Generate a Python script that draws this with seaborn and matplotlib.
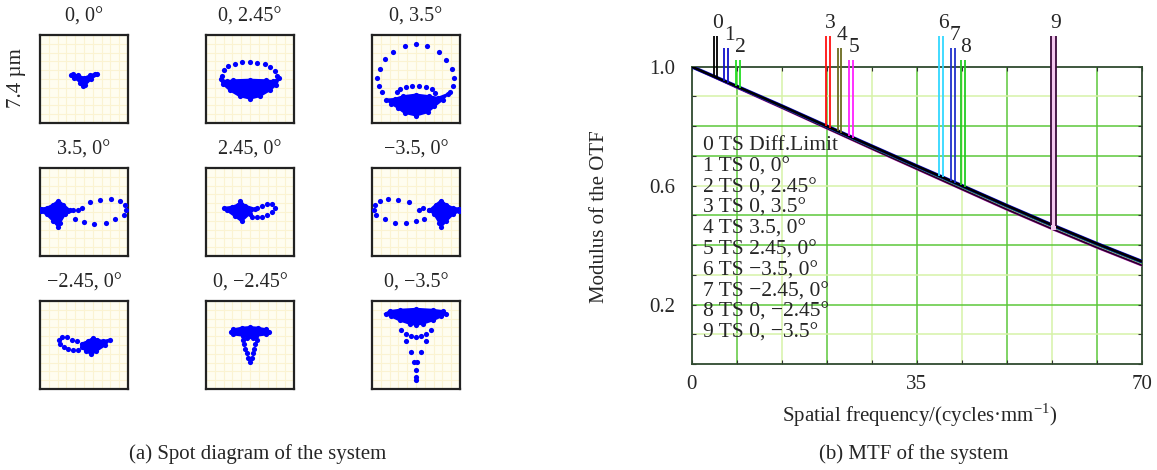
import matplotlib
matplotlib.use("Agg")
import matplotlib.pyplot as plt
import numpy as np
import pandas as pd
import seaborn as sns

sns.set_theme(style="white")
plt.rcParams['font.family'] = ['Liberation Serif', 'DejaVu Serif']
plt.rcParams['mathtext.fontset'] = 'custom'
plt.rcParams['mathtext.rm'] = 'Liberation Serif'

W, H = 1157, 470

"""
Spot diagram data (µm, box spans +-3.7)
"""
field_titles = ["0, 0°", "0, 2.45°", "0, 3.5°",
                "3.5, 0°", "2.45, 0°", "\u22123.5, 0°",
                "\u22122.45, 0°", "0, \u22122.45°", "0, \u22123.5°"]

spot1_blob = [(-1.12, 0.3), (-0.9, 0.38), (-0.5, 0.3), (0.0, 0.1), (0.5, 0.3), (0.9, 0.45), (1.12, 0.38),
              (0.6, 0.0), (0.1, -0.5), (-0.05, -0.6), (-0.3, -0.3), (-0.8, 0.1)]
spot1_dots = []

spot2_blob = [(-2.47, 0.0), (-1.97, -0.2), (-1.41, -0.11), (0.0, -0.06), (1.38, -0.11), (1.94, -0.2), (2.44, 0.06),
              (2.22, -0.47), (1.66, -0.95), (0.82, -1.45), (0.0, -1.65), (-0.85, -1.45), (-1.69, -0.95), (-2.3, -0.39)]
spot2_dots = [(-2.33, 0.28), (-2.19, 0.73), (-1.86, 1.06), (-1.27, 1.28), (-0.66, 1.40), (0.0, 1.42),
              (0.63, 1.37), (1.24, 1.26), (1.72, 0.98), (2.08, 0.70), (2.30, 0.22)]

spot3_blob = [(-2.5, -1.73), (-1.8, -1.68), (-1.1, -1.45), (0.01, -1.31), (1.13, -1.45), (1.83, -1.59), (2.67, -1.26),
              (2.25, -1.73), (1.55, -2.29), (0.99, -2.79), (0.01, -3.07), (-0.96, -2.85), (-1.52, -2.43), (-2.08, -2.07)]
spot3_dots = [(-0.04, 2.93), (-0.96, 2.74), (0.94, 2.74), (-1.94, 2.29), (1.91, 2.29), (-2.58, 1.68), (2.53, 1.62),
              (-3.06, 0.84), (3.03, 0.84), (-3.25, 0.08), (3.17, 0.08), (-3.11, -0.56), (3.09, -0.56),
              (-2.83, -1.12), (2.86, -1.06), (-1.61, -1.12), (-1.38, -0.84), (-0.88, -0.67), (-0.32, -0.61),
              (0.24, -0.61), (0.8, -0.67), (1.33, -0.84), (1.61, -1.17)]

spot4_blob = [(-3.65, 0.29), (-3.14, 0.35), (-2.58, 0.63), (-2.16, 0.96), (-1.75, 0.63), (-1.19, 0.15),
              (-1.61, -0.21), (-2.03, -0.91), (-2.16, -1.24), (-2.58, -0.77), (-3.14, -0.21), (-3.65, 0.07)]
spot4_dots = [(0.49, 0.82), (1.38, 1.05), (2.3, 1.13), (3.06, 0.91), (3.42, 0.63), (3.56, 0.21), (3.34, -0.29),
              (2.58, -0.63), (1.83, -0.91), (0.85, -0.99), (-0.01, -0.82), (-0.77, -0.63), (-1.33, 0.07),
              (-0.91, 0.15), (-0.49, 0.21), (-0.21, 0.35)]

spot5_blob = [(-2.19, 0.35), (-1.55, 0.43), (-0.99, 0.63), (-0.8, 0.91), (-0.43, 0.54), (0.41, 0.27),
              (-0.01, -0.13), (-0.71, -0.77), (-1.27, -0.35), (-1.97, 0.15)]
spot5_dots = [(0.6, 0.32), (1.05, 0.54), (1.47, 0.68), (1.89, 0.68), (2.11, 0.35), (1.89, -0.01),
              (1.44, -0.29), (1.02, -0.41), (0.6, -0.43), (0.21, -0.41)]

spot6_blob = [(3.65, 0.29), (3.09, 0.35), (2.53, 0.63), (2.11, 0.96), (1.69, 0.63), (1.13, 0.15),
              (1.55, -0.21), (1.97, -0.91), (2.11, -1.24), (2.53, -0.77), (3.09, -0.21), (3.65, 0.07)]
spot6_dots = [(-3.06, 0.96), (-2.36, 1.13), (-1.52, 1.05), (-0.6, 0.82), (-3.48, 0.63), (-3.56, 0.13),
              (-3.34, -0.29), (-2.64, -0.63), (-1.8, -0.91), (-0.88, -0.96), (-0.04, -0.77), (0.71, -0.57),
              (0.24, 0.21), (0.63, 0.35), (1.08, 0.21)]

spot7_blob = [(-0.21, 0.11), (0.35, 0.34), (0.77, 0.61), (1.1, 0.45), (1.61, 0.34), (2.16, 0.45),
              (1.75, -0.03), (1.05, -0.5), (0.63, -0.78), (0.15, -0.5), (-0.21, -0.17)]
spot7_dots = [(-2.08, 0.45), (-1.86, 0.67), (-1.47, 0.67), (-1.05, 0.45), (-0.63, 0.31), (-2.03, 0.11),
              (-1.69, -0.17), (-1.33, -0.36), (-0.91, -0.45), (-0.49, -0.45)]

spot8_blob = [(-1.63, 1.09), (-1.41, 1.31), (-0.71, 1.45), (-0.01, 1.51), (0.68, 1.45), (1.38, 1.31), (1.61, 1.09),
              (1.38, 0.89), (0.54, 0.78), (-0.01, 0.73), (-0.57, 0.78), (-1.41, 0.89)]
spot8_dots = [(-0.63, 0.45), (-0.49, 0.06), (-0.38, -0.31), (-0.27, -0.67), (-0.15, -1.06), (0.6, 0.45),
              (0.46, 0.06), (0.35, -0.31), (0.24, -0.67), (0.13, -1.06), (-0.01, -1.42), (-0.29, 0.61), (0.27, 0.61)]

spot9_blob = [(-2.56, 2.63), (-2.22, 2.85), (-1.38, 2.96), (0.01, 3.04), (1.41, 2.96), (2.25, 2.85), (2.53, 2.63),
              (2.11, 2.4), (1.41, 2.07), (0.57, 1.79), (0.01, 1.7), (-0.54, 1.79), (-1.38, 2.07), (-2.08, 2.4)]
spot9_dots = [(-1.24, 1.28), (-0.88, 0.95), (-0.41, 0.73), (0.01, 0.67), (0.43, 0.73), (0.85, 0.95), (1.22, 1.23),
              (-0.82, 0.34), (0.8, 0.34), (-0.41, -0.59), (0.38, -0.59), (-0.18, -1.42), (0.1, -1.42),
              (-0.04, -2.12), (-0.04, -2.68), (-0.04, -2.96)]

spot_blobs = [spot1_blob, spot2_blob, spot3_blob, spot4_blob, spot5_blob, spot6_blob, spot7_blob, spot8_blob, spot9_blob]
spot_dots = [spot1_dots, spot2_dots, spot3_dots, spot4_dots, spot5_dots, spot6_dots, spot7_dots, spot8_dots, spot9_dots]

"""
MTF data
"""
mtf_freq = [0, 3.5, 7, 14, 21, 28, 35, 42, 49, 56, 63, 70]
mtf_diff = [1.0, 0.967, 0.934, 0.868, 0.800, 0.733, 0.666, 0.600, 0.533, 0.468, 0.405, 0.345]
mtf_mid = [1.0, 0.966, 0.932, 0.865, 0.797, 0.729, 0.662, 0.595, 0.528, 0.463, 0.400, 0.340]
mtf_edge = [1.0, 0.965, 0.930, 0.862, 0.793, 0.724, 0.656, 0.588, 0.520, 0.455, 0.392, 0.332]

marker_labels = ["0", "1", "2", "3", "4", "5", "6", "7", "8", "9"]
marker_freqs = [(3.4, 4.0), (5.1, 5.7), (6.9, 7.5), (20.9, 21.5), (22.7, 23.3), (24.5, 25.1),
                (38.5, 39.1), (40.3, 40.9), (41.9, 42.5), (55.9, 56.6)]
marker_colors = ["black", "#1010cc", "#22dd22", "#ff1010", "#6b6b20", "#ff20ff",
                 "#33d8ff", "#2030cc", "#22cc22", "#3a0a3a"]
legend_lines = ["0 TS Diff.Limit", "1 TS 0, 0°", "2 TS 0, 2.45°", "3 TS 0, 3.5°", "4 TS 3.5, 0°",
                "5 TS 2.45, 0°", "6 TS \u22123.5, 0°", "7 TS \u22122.45, 0°", "8 TS 0, \u22122.45°",
                "9 TS 0, \u22123.5°"]


def px_axes(fig, left, top, w, h):
    return fig.add_axes([left / W, 1 - (top + h) / H, w / W, h / H])


def draw_spot(ax, blob, dots, title, fig, left, top):
    ax.set_facecolor("#fffdf0")
    for g in np.linspace(-3.7, 3.7, 11):
        ax.axvline(g, color="#fbf3d2", lw=0.8, zorder=0)
        ax.axhline(g, color="#fbf3d2", lw=0.8, zorder=0)
    bx = [p[0] for p in blob]
    by = [p[1] for p in blob]
    ax.fill(bx, by, color="#0000ff", lw=1.5, ec="#0000ff", zorder=2)
    pts = pd.DataFrame(blob + dots, columns=["x", "y"])
    sns.scatterplot(data=pts, x="x", y="y", ax=ax, marker="o", s=14, color="#0000ff", linewidth=0, zorder=3)
    ax.set_xlim(-3.7, 3.7)
    ax.set_ylim(-3.7, 3.7)
    ax.set_xticks([])
    ax.set_yticks([])
    ax.set_xlabel("")
    ax.set_ylabel("")
    for s in ax.spines.values():
        s.set_color("#222222")
        s.set_linewidth(1.6)
    fig.text((left + 44) / W, 1 - (top - 18) / H, title, ha="center", va="center", fontsize=14.5)


fig = plt.figure(figsize=(W / 100, H / 100), dpi=100)

col_left = [40, 206, 372]
row_top = [35, 168, 301]
for i in range(9):
    left = col_left[i % 3]
    top = row_top[i // 3]
    ax = px_axes(fig, left, top, 88, 88)
    draw_spot(ax, spot_blobs[i], spot_dots[i], field_titles[i], fig, left, top)

fig.text(17 / W, 1 - 78 / H, "7.4 µm", rotation=90, ha="center", va="center", fontsize=15)
fig.text(258 / W, 1 - 454 / H, "(a) Spot diagram of the system", ha="center", va="center", fontsize=15)

# MTF panel
ax = px_axes(fig, 691.7, 66.7, 450, 297.3)
ax.set_facecolor("white")
grid_x = np.arange(7, 70, 7)
grid_y = [0.1, 0.2, 0.3, 0.4, 0.5, 0.6, 0.7, 0.8, 0.9]
grid_y_col = ["#d6f2a8", "#5cc83a", "#d6f2a8", "#5cc83a", "#5cc83a", "#d6f2a8", "#5cc83a", "#5cc83a", "#d6f2a8"]
for k, gx in enumerate(grid_x):
    ax.axvline(gx, color="#5cc83a" if k % 2 == 0 else "#d6f2a8", lw=1.1, zorder=0)
for gy, c in zip(grid_y, grid_y_col):
    ax.axhline(gy, color=c, lw=1.1, zorder=0)

df_mtf = pd.DataFrame({"freq": mtf_freq, "diff": mtf_diff, "mid": mtf_mid, "edge": mtf_edge})
sns.lineplot(data=df_mtf, x="freq", y="edge", ax=ax, color="#c030c0", lw=1.8, zorder=3)
sns.lineplot(data=df_mtf, x="freq", y="edge", ax=ax, color="#2a002a", lw=1.2, zorder=3)
sns.lineplot(data=df_mtf, x="freq", y="mid", ax=ax, color="#22dd22", lw=1.3, zorder=4)
sns.lineplot(data=df_mtf, x="freq", y="diff", ax=ax, color="#1010cc", lw=2.6, zorder=5)
sns.lineplot(data=df_mtf, x="freq", y="diff", ax=ax, color="black", lw=1.8, zorder=6)

marker_tops = [1.103, 1.063, 1.023]
for k, (f1, f2) in enumerate(marker_freqs):
    top = marker_tops[k % 3]
    c = marker_colors[k]
    b1 = np.interp(f1, mtf_freq, mtf_diff)
    b2 = np.interp(f2, mtf_freq, mtf_diff)
    if k == 9:
        ax.fill_betweenx([np.interp(f2, mtf_freq, mtf_edge), top], f1, f2, color="#f4c8f0", zorder=6, clip_on=False, lw=0)
    ax.vlines([f1, f2], [b1, b2], top, colors=c, lw=1.3, zorder=7, clip_on=False)
    ax.text((f1 + f2) / 2 + 0.4, top + 0.042, marker_labels[k], ha="center", va="center", fontsize=15.5)

for k, line in enumerate(legend_lines):
    y_px = 146 + 20.8 * k
    ax.text(0.025, 1 - (y_px - 66.7) / 297.3, line, transform=ax.transAxes, ha="left", va="center",
            fontsize=15.5, zorder=8)

ax.set_xlim(0, 70)
ax.set_ylim(0, 1.0)
ax.set_xticks(np.arange(0, 71, 7))
ax.set_xticklabels(["0", "", "", "", "", "35", "", "", "", "", "70"])
ax.set_yticks(np.arange(0, 1.01, 0.1))
ax.set_yticklabels(["", "", "0.2", "", "", "", "0.6", "", "", "", "1.0"])
ax.tick_params(direction="in", length=3, width=0.8, color="#333333", top=True, right=True,
               labelsize=15, left=True, bottom=True)
ax.tick_params(axis="x", pad=8)
ax.tick_params(axis="y", pad=12)
ax.set_xlabel("")
ax.set_ylabel("")
for s in ax.spines.values():
    s.set_color("#2f4a2f")
    s.set_linewidth(1.3)

fig.text(600 / W, 1 - 217 / H, "Modulus of the OTF", rotation=90, ha="center", va="center", fontsize=15)
fig.text(920 / W, 1 - 415 / H, "Spatial frequency/(cycles\u00b7mm$^{\u22121}$)", ha="center", va="center", fontsize=15)
fig.text(914 / W, 1 - 454 / H, "(b) MTF of the system", ha="center", va="center", fontsize=15)

fig.savefig("out.png", dpi=100)
